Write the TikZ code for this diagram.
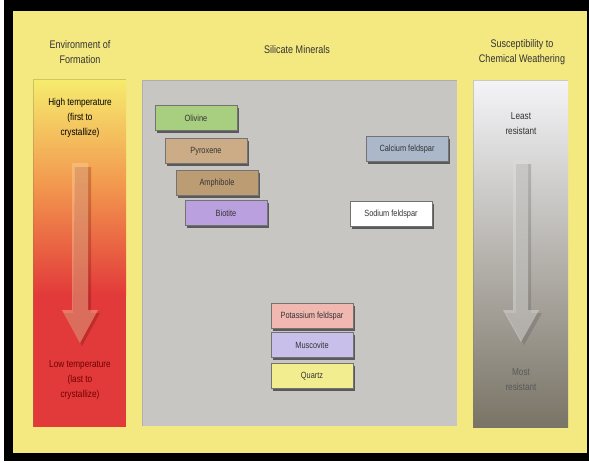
\documentclass[tikz,border=0pt]{standalone}
\usepackage{fontspec}
\setmainfont{Liberation Sans}[FakeStretch=0.82]
\usepackage{tikz}
\usetikzlibrary{shadows}

\definecolor{panelyellow}{RGB}{244,232,128}
\definecolor{panelgray}{RGB}{200,198,195}
\definecolor{hotred}{RGB}{226,58,58}
\definecolor{warmorange}{RGB}{242,150,78}
\definecolor{coolyellow}{RGB}{246,236,110}
\definecolor{stonetop}{RGB}{244,244,248}
\definecolor{stonebot}{RGB}{122,116,102}

\tikzset{
  mineral/.style={draw=black!55, line width=0.4pt, minimum width=82pt, minimum height=25pt,
    inner sep=0pt, font=\fontsize{9}{10}\selectfont, text=black!80,
    drop shadow={shadow xshift=1.5pt, shadow yshift=-2pt, fill=black!75, opacity=.8}},
  header/.style={align=center, font=\fontsize{11}{15}\selectfont, text=black!80},
  sidetext/.style={align=center, font=\fontsize{10}{15}\selectfont}
}

\begin{document}
\begin{tikzpicture}[x=1pt, y=-1pt]
		%%%%% START %%%%%
		\useasboundingbox (0, 0) rectangle (589, 463);
		\fill[white] (0, 0) rectangle (589, 463);
		\fill[black] (4, 0) rectangle (589, 461);
		\fill[panelyellow] (13, 11) rectangle (587, 453);
		
		% headers
		\node[header] (envhead) at (80, 52) {Environment of\\Formation};
		\node[header] (silhead) at (297, 50) {Silicate Minerals};
		\node[header] (weathead) at (522, 52) {Susceptibility to\\Chemical Weathering};
		
		% left panel
		\fill[hotred] (33, 79) rectangle (126, 427);
		\shade[top color=coolyellow, bottom color=hotred, middle color=warmorange] (33, 79) rectangle (126, 295);
		\draw[yellow!45!black, opacity=.35, line width=1pt] (33, 427) -- (33, 79) -- (126, 79);
		\fill[black!60!red, opacity=.25] (75, 167) -- (91, 167) -- (91, 313) -- (100, 313) -- (82, 346) -- (64, 313) -- (73, 313) -- cycle;
		\fill[orange!35!white, opacity=.4] (72, 163) -- (88, 163) -- (88, 310) -- (98, 310) -- (80, 343) -- (62, 310) -- (72, 310) -- cycle;
		\node[sidetext] (hightemp) at (80, 118) {High temperature\\(first to\\crystallize)};
		\node[sidetext, text=red!45!black] (lowtemp) at (80, 380) {Low temperature\\(last to\\crystallize)};
		
		% middle panel
		\fill[panelgray] (142, 80) rectangle (457, 426);
		\draw[black!40, opacity=.5, line width=1pt] (142, 426) -- (142, 80) -- (457, 80);
		
		% right panel
		\shade[top color=stonetop, bottom color=stonebot] (473, 80) rectangle (568, 427);
		\draw[yellow!45!black, opacity=.35, line width=1pt] (473, 427) -- (473, 80) -- (568, 80);
		\fill[black!70, opacity=.25] (516, 164) -- (531, 164) -- (531, 313) -- (542, 313) -- (524, 345) -- (506, 313) -- (516, 313) -- cycle;
		\fill[white!75!stonebot, opacity=.5] (513, 160) -- (528, 160) -- (528, 310) -- (539, 310) -- (521, 342) -- (503, 310) -- (513, 310) -- cycle;
		\node[sidetext, text=black!80] (leastres) at (521, 124) {Least\\resistant};
		\node[sidetext, text=black!65] (mostres) at (521, 380) {Most\\resistant};
		
		% mineral boxes
		\node[mineral, fill={rgb,255:red,168;green,206;blue,128}] (olivine) at (196, 118) {Olivine};
		\node[mineral, fill={rgb,255:red,204;green,172;blue,134}] (pyroxene) at (206, 151) {Pyroxene};
		\node[mineral, fill={rgb,255:red,188;green,156;blue,114}] (amphibole) at (217, 183) {Amphibole};
		\node[mineral, fill={rgb,255:red,186;green,160;blue,222}] (biotite) at (226, 213) {Biotite};
		\node[mineral, fill={rgb,255:red,170;green,184;blue,202}] (calcium) at (407, 149) {Calcium feldspar};
		\node[mineral, fill=white] (sodium) at (391, 214) {Sodium feldspar};
		\node[mineral, fill={rgb,255:red,240;green,184;blue,176}] (potassium) at (312, 316) {Potassium feldspar};
		\node[mineral, fill={rgb,255:red,200;green,192;blue,234}] (muscovite) at (312, 345) {Muscovite};
		\node[mineral, fill={rgb,255:red,242;green,238;blue,144}] (quartz) at (312, 376) {Quartz};
		%%%%% END %%%%%
	\end{tikzpicture}
\end{document}
